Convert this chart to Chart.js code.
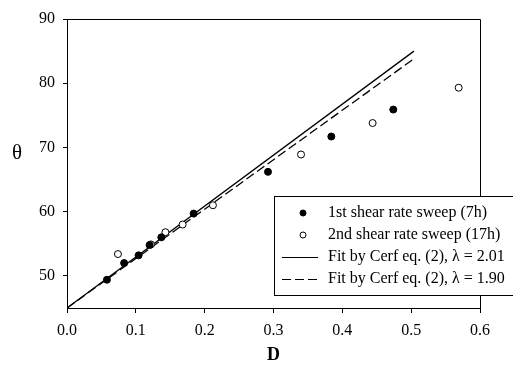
<!DOCTYPE html>
<html>
<head>
<meta charset="utf-8">
<script src="https://cdn.jsdelivr.net/npm/chart.js@4.4.1/dist/chart.umd.min.js"></script>
<style>
    body { margin: 0; background: #ffffff; }
    #wrap { width: 513px; height: 369px; }
</style>
</head>
<body>
<div id="wrap"><canvas id="theta-chart" width="513" height="369"></canvas></div>
<script>
// values
const sweep1D = [0.058, 0.083, 0.104, 0.120, 0.137, 0.184, 0.292, 0.384, 0.474];
const sweep1Theta = [49.4, 52.0, 53.2, 54.8, 56.0, 59.7, 66.2, 71.7, 75.9];
const sweep2D = [0.074, 0.122, 0.143, 0.168, 0.212, 0.340, 0.444, 0.569];
const sweep2Theta = [53.4, 54.9, 56.8, 58.0, 61.0, 68.9, 73.8, 79.3];
const fitD = [0.0, 0.504];
const fit201Theta = [45.0, 85.0];
const fit190Theta = [45.0, 83.8];
const seriesLabels = [
    '1st shear rate sweep (7h)',
    '2nd shear rate sweep (17h)',
    'Fit by Cerf eq. (2), λ = 2.01',
    'Fit by Cerf eq. (2), λ = 1.90'
];
const xTickValues = [0.0, 0.1, 0.2, 0.3, 0.4, 0.5, 0.6];
const yTickValues = [50, 60, 70, 80, 90];
const yTitle = 'θ';

const serif = "'Liberation Serif', 'Times New Roman', serif";

function toPoints(xs, ys) {
    return xs.map((x, i) => ({x: x, y: ys[i]}));
}

// top + right edge of the plot box, and the upright theta label
const frameBox = {
    id: 'frameBox',
    afterDatasetsDraw(chart) {
        const {ctx, chartArea} = chart;
        ctx.save();
        ctx.strokeStyle = '#000000';
        ctx.lineWidth = 1;
        ctx.beginPath();
        ctx.moveTo(chartArea.left, chartArea.top + 0.5);
        ctx.lineTo(chartArea.right + 0.5, chartArea.top + 0.5);
        ctx.lineTo(chartArea.right + 0.5, chartArea.bottom);
        ctx.stroke();

        ctx.fillStyle = '#000000';
        ctx.font = '21px ' + serif;
        ctx.textAlign = 'center';
        ctx.textBaseline = 'middle';
        ctx.fillText(yTitle, 17, 153);
        ctx.restore();
    }
};

// legend box that sits over the lower right corner
const boxLegend = {
    id: 'boxLegend',
    afterDraw(chart) {
        const ctx = chart.ctx;
        const left = 274, top = 196, width = 260, height = 99;
        ctx.save();
        ctx.fillStyle = '#ffffff';
        ctx.fillRect(left, top, width, height);
        ctx.strokeStyle = '#000000';
        ctx.lineWidth = 1;
        ctx.strokeRect(left + 0.5, top + 0.5, width, height);

        ctx.font = '16px ' + serif;
        ctx.textBaseline = 'middle';
        ctx.textAlign = 'left';
        chart.data.datasets.forEach((ds, i) => {
            const y = 213 + i * 22;
            if (ds.showLine) {
                ctx.beginPath();
                ctx.setLineDash(ds.borderDash || []);
                ctx.strokeStyle = ds.borderColor;
                ctx.lineWidth = 1.2;
                ctx.moveTo(282, y + 0.5);
                ctx.lineTo(318, y + 0.5);
                ctx.stroke();
                ctx.setLineDash([]);
            } else {
                ctx.beginPath();
                ctx.arc(303, y, 3, 0, Math.PI * 2);
                ctx.fillStyle = ds.backgroundColor;
                ctx.fill();
                ctx.strokeStyle = '#000000';
                ctx.lineWidth = 1;
                ctx.stroke();
            }
            ctx.fillStyle = '#000000';
            ctx.fillText(ds.label, 328, y);
        });
        ctx.restore();
    }
};

const chart = new Chart(document.getElementById('theta-chart'), {
    type: 'scatter',
    data: {
        datasets: [
            {
                label: seriesLabels[0],
                data: toPoints(sweep1D, sweep1Theta),
                backgroundColor: '#000000',
                borderColor: '#000000',
                borderWidth: 1,
                pointRadius: 3.5
            },
            {
                label: seriesLabels[1],
                data: toPoints(sweep2D, sweep2Theta),
                backgroundColor: '#ffffff',
                borderColor: '#000000',
                borderWidth: 1,
                pointRadius: 3.5
            },
            {
                label: seriesLabels[2],
                data: toPoints(fitD, fit201Theta),
                showLine: true,
                borderColor: '#000000',
                borderWidth: 1.3,
                pointRadius: 0
            },
            {
                label: seriesLabels[3],
                data: toPoints(fitD, fit190Theta),
                showLine: true,
                borderColor: '#000000',
                borderWidth: 1.3,
                borderDash: [9, 4],
                pointRadius: 0
            }
        ]
    },
    options: {
        responsive: false,
        animation: false,
        layout: {
            padding: {left: 0, top: 19, right: 33, bottom: 0}
        },
        plugins: {
            legend: {display: false},
            tooltip: {enabled: false}
        },
        scales: {
            x: {
                type: 'linear',
                min: 0,
                max: 0.6,
                afterFit(scale) {
                    scale.height = 61;
                },
                afterBuildTicks(scale) {
                    scale.ticks = xTickValues.map(v => ({value: v}));
                },
                ticks: {
                    color: '#000000',
                    padding: 8,
                    maxRotation: 0,
                    font: {family: serif, size: 16},
                    callback: (value) => Number(value).toFixed(1)
                },
                grid: {
                    drawOnChartArea: false,
                    drawTicks: true,
                    tickLength: 5,
                    color: '#000000'
                },
                border: {display: true, color: '#000000', width: 1},
                title: {
                    display: true,
                    text: 'D',
                    color: '#000000',
                    font: {family: serif, size: 18, weight: 'bold'},
                    padding: {top: 0, bottom: 3}
                }
            },
            y: {
                type: 'linear',
                min: 45,
                max: 90,
                afterFit(scale) {
                    scale.width = 67;
                },
                afterBuildTicks(scale) {
                    scale.ticks = yTickValues.map(v => ({value: v}));
                },
                ticks: {
                    color: '#000000',
                    padding: 8,
                    font: {family: serif, size: 16}
                },
                grid: {
                    drawOnChartArea: false,
                    drawTicks: true,
                    tickLength: 4,
                    color: '#000000'
                },
                border: {display: true, color: '#000000', width: 1},
                title: {display: false}
            }
        }
    },
    plugins: [frameBox, boxLegend]
});
</script>
</body>
</html>
